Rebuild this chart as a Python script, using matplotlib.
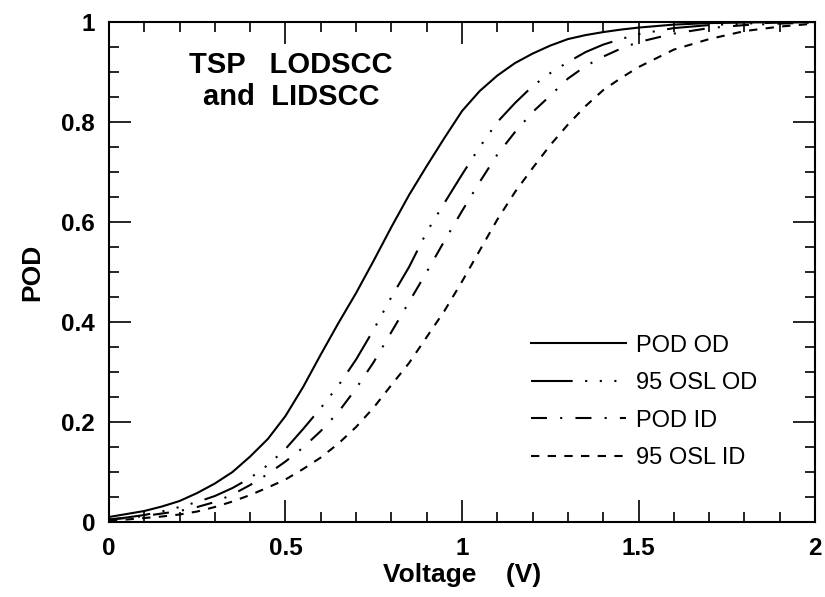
import matplotlib
matplotlib.use("Agg")
import matplotlib.pyplot as plt
from matplotlib.ticker import MultipleLocator

plt.rcParams['font.family'] = ['Liberation Sans', 'DejaVu Sans']
plt.rcParams['lines.scale_dashes'] = False

voltage = [0.0, 0.05, 0.1, 0.15, 0.2, 0.25, 0.3, 0.35, 0.4, 0.45, 0.5, 0.55,
           0.6, 0.65, 0.7, 0.75, 0.8, 0.85, 0.9, 0.95, 1.0, 1.05, 1.1, 1.15,
           1.2, 1.25, 1.3, 1.35, 1.4, 1.45, 1.5, 1.6, 1.7, 1.8, 1.9, 2.0]
pod_od = [0.010, 0.016, 0.022, 0.031, 0.042, 0.058, 0.077, 0.100, 0.131, 0.166,
          0.212, 0.270, 0.335, 0.398, 0.458, 0.523, 0.590, 0.654, 0.712, 0.768,
          0.822, 0.862, 0.893, 0.918, 0.937, 0.953, 0.966, 0.974, 0.980, 0.985,
          0.989, 0.995, 0.998, 0.999, 1.0, 1.0]
osl_od = [0.005, 0.009, 0.014, 0.021, 0.030, 0.040, 0.052, 0.068, 0.088, 0.114,
          0.146, 0.186, 0.228, 0.273, 0.325, 0.385, 0.450, 0.510, 0.580, 0.638,
          0.695, 0.750, 0.800, 0.838, 0.872, 0.898, 0.920, 0.940, 0.955, 0.966,
          0.976, 0.988, 0.994, 0.997, 0.999, 1.0]
pod_id = [0.005, 0.008, 0.012, 0.017, 0.022, 0.030, 0.040, 0.055, 0.074, 0.096,
          0.121, 0.149, 0.182, 0.220, 0.267, 0.320, 0.380, 0.440, 0.500, 0.562,
          0.622, 0.680, 0.735, 0.780, 0.820, 0.853, 0.887, 0.912, 0.931, 0.947,
          0.960, 0.977, 0.988, 0.994, 0.997, 0.999]
osl_id = [0.003, 0.005, 0.008, 0.011, 0.015, 0.021, 0.030, 0.041, 0.054, 0.069,
          0.085, 0.106, 0.129, 0.157, 0.190, 0.229, 0.274, 0.318, 0.370, 0.422,
          0.481, 0.543, 0.605, 0.660, 0.708, 0.754, 0.795, 0.832, 0.864, 0.888,
          0.910, 0.945, 0.966, 0.982, 0.991, 0.997]

labels = ["POD OD", "95 OSL OD", "POD ID", "95 OSL ID"]
styles = ['-',
          (0, (30, 9, 1.5, 9, 1.5, 9, 1.5, 9)),
          (0, (11.5, 9.5, 1.5, 9.5)),
          (0, (6, 6))]

fig = plt.figure(figsize=(8.25, 5.97), dpi=100)
ax = fig.add_axes([0.132, 0.1256, 0.856, 0.8374])

for ys, lab, ls in zip([pod_od, osl_od, pod_id, osl_id], labels, styles):
    ax.plot(voltage, ys, color='black', lw=1.5, linestyle=ls, label=lab)

ax.set_xlim(0, 2)
ax.set_ylim(0, 1)
ax.xaxis.set_minor_locator(MultipleLocator(0.1))
ax.yaxis.set_minor_locator(MultipleLocator(0.05))
ax.set_xticks([0, 0.5, 1, 1.5, 2])
ax.set_xticklabels(['0', '0.5', '1', '1.5', '2'])
ax.set_yticks([0, 0.2, 0.4, 0.6, 0.8, 1])
ax.set_yticklabels(['0', '0.2', '0.4', '0.6', '0.8', '1'])

ax.tick_params(which='both', direction='in', top=True, right=True, width=1.2)
ax.tick_params(which='major', length=16)
ax.tick_params(which='minor', length=7)
ax.tick_params(axis='x', which='major', pad=11)
ax.tick_params(axis='y', which='major', pad=10)
for lbl in ax.get_xticklabels() + ax.get_yticklabels():
    lbl.set_fontsize(17.5)
    lbl.set_fontweight('bold')
for sp in ax.spines.values():
    sp.set_linewidth(1.5)

ax.set_xlabel("Voltage    (V)", fontsize=19, fontweight='bold', labelpad=2)
ax.set_ylabel("POD", fontsize=19, fontweight='bold', labelpad=12)

ax.text(0.258, 0.882, "TSP   LODSCC\nand  LIDSCC", transform=ax.transAxes,
        ha='center', va='center', fontsize=21, fontweight='bold', linespacing=1.15)

ax.legend(loc='upper left', bbox_to_anchor=(0.598, 0.375), frameon=False,
          fontsize=17, handlelength=4.0, handletextpad=0.45, labelspacing=0.66,
          borderpad=0, borderaxespad=0)

fig.savefig("out.png", dpi=100)
